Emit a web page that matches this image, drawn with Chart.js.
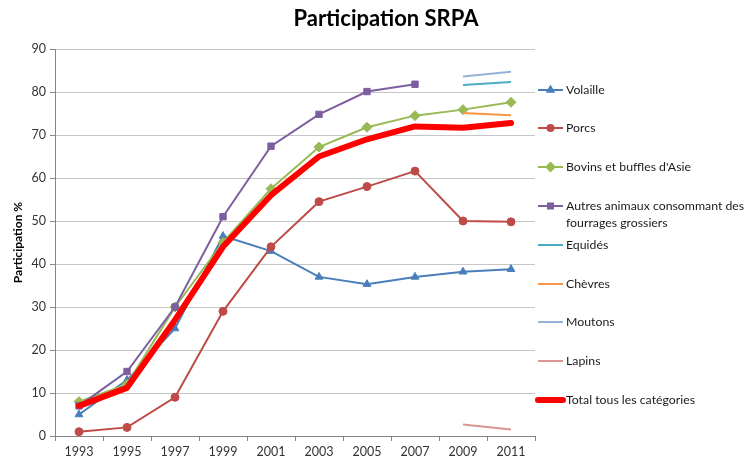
<!DOCTYPE html>
<html>
<head>
<meta charset="utf-8">
<script src="https://cdn.jsdelivr.net/npm/chart.js@4"></script>
<style>
  html, body { margin: 0; padding: 0; background: #fff; }
  #wrap { width: 750px; height: 464px; }
</style>
</head>
<body>
<div id="wrap"><canvas id="myChart" width="750" height="464"></canvas></div>
<script>
// data
const years = ['1993', '1995', '1997', '1999', '2001', '2003', '2005', '2007', '2009', '2011'];
const volaille = [5, 13, 25, 46.5, 43, 37, 35.3, 37, 38.2, 38.8];
const porcs = [1, 2, 9, 29, 44, 54.5, 58, 61.6, 50, 49.8];
const bovins = [8, 12, 30, 45, 57.5, 67.2, 71.8, 74.5, 75.9, 77.6];
const autres = [7, 15, 30, 51, 67.4, 74.8, 80.1, 81.8, null, null];
const equides = [null, null, null, null, null, null, null, null, 81.6, 82.3];
const chevres = [null, null, null, null, null, null, null, null, 75.1, 74.6];
const moutons = [null, null, null, null, null, null, null, null, 83.6, 84.7];
const lapins = [null, null, null, null, null, null, null, null, 2.7, 1.5];
const total = [7, 11.2, 27, 44, 56, 65, 69, 72, 71.7, 72.8];

const FONT = 'Lato, "Noto Sans", sans-serif';

// simple line dataset helper
function serie(label, data, color, style, radius, width, order) {
  return {
    label: label,
    data: data,
    borderColor: color,
    backgroundColor: color,
    borderWidth: width,
    pointStyle: style,
    pointRadius: style ? radius : 0,
    pointHoverRadius: style ? radius : 0,
    pointBorderWidth: 1,
    spanGaps: false,
    tension: 0,
    order: order
  };
}

// title drawn by hand so it can sit a bit right of centre like the original
const titlePlugin = {
  id: 'titlePlugin',
  afterDraw(chart) {
    const c = chart.ctx;
    c.save();
    c.font = 'bold 22px ' + FONT;
    c.fillStyle = '#000';
    c.textAlign = 'center';
    c.textBaseline = 'middle';
    c.fillText('Participation SRPA', 386, 19);
    c.restore();
  }
};

// legend on the right, one row per series
const legendRows = [90, 128, 167, 206, 245, 284, 322, 361, 400];
const legendPlugin = {
  id: 'legendPlugin',
  afterDraw(chart) {
    const c = chart.ctx;
    c.save();
    chart.data.datasets.forEach((ds, i) => {
      const y = legendRows[i];
      c.strokeStyle = ds.borderColor;
      c.lineWidth = ds.borderWidth;
      c.lineCap = ds.borderWidth > 3 ? 'round' : 'butt';
      c.beginPath();
      c.moveTo(538, y);
      c.lineTo(563, y);
      c.stroke();
      if (ds.pointStyle) {
        Chart.helpers.drawPoint(c, {
          pointStyle: ds.pointStyle,
          radius: ds.pointRadius - 1,
          borderWidth: 1
        }, 550.5, y);
        c.fillStyle = ds.backgroundColor;
        c.fill();
      }
      c.fillStyle = '#1a1a1a';
      c.font = '12.3px ' + FONT;
      c.textAlign = 'left';
      c.textBaseline = 'middle';
      const lines = Array.isArray(ds.legendText) ? ds.legendText : [ds.label];
      lines.forEach((t, k) => c.fillText(t, 566, y + k * 17));
    });
    c.restore();
  }
};

const datasets = [
  serie('Volaille', volaille, '#4a7ebb', 'triangle', 4.5, 2, 8),
  serie('Porcs', porcs, '#be4b48', 'circle', 4, 2, 7),
  serie("Bovins et buffles d'Asie", bovins, '#98b954', 'rectRot', 5, 2, 6),
  serie('Autres animaux consommant des fourrages grossiers', autres, '#7d5fa0', 'rect', 4.5, 2, 5),
  serie('Equidés', equides, '#4bacc6', false, 0, 2, 4),
  serie('Chèvres', chevres, '#f79646', false, 0, 2, 3),
  serie('Moutons', moutons, '#95b3d7', false, 0, 2, 2),
  serie('Lapins', lapins, '#d99694', false, 0, 2, 1),
  serie('Total tous les catégories', total, '#ff0000', false, 0, 6, 0)
];
datasets[3].legendText = ['Autres animaux consommant des', 'fourrages grossiers'];
datasets[8].borderJoinStyle = 'round';
datasets[8].borderCapStyle = 'round';

new Chart(document.getElementById('myChart'), {
  type: 'line',
  data: { labels: years, datasets: datasets },
  plugins: [titlePlugin, legendPlugin],
  options: {
    responsive: false,
    animation: false,
    events: [],
    layout: { padding: { top: 49, right: 215, left: 8, bottom: 0 } },
    plugins: {
      legend: { display: false },
      title: { display: false },
      tooltip: { enabled: false }
    },
    scales: {
      x: {
        offset: true,
        grid: {
          offset: true,
          drawOnChartArea: false,
          drawTicks: true,
          tickLength: 5,
          color: '#868686'
        },
        border: { color: '#868686' },
        ticks: {
          color: '#333',
          font: { family: FONT, size: 12.5 },
          padding: 3,
          maxRotation: 0
        },
        afterFit(s) { s.height = 28; }
      },
      y: {
        min: 0,
        max: 90,
        ticks: {
          stepSize: 10,
          color: '#333',
          font: { family: FONT, size: 12.5 },
          padding: 4
        },
        grid: {
          color: '#c6c6c6',
          tickLength: 5,
          tickColor: '#868686'
        },
        border: { color: '#868686' },
        title: {
          display: true,
          text: 'Participation %',
          color: '#000',
          font: { family: FONT, size: 12, weight: 'bold' },
          padding: 3
        },
        afterFit(s) { s.width = 47; }
      }
    }
  }
});
</script>
</body>
</html>
